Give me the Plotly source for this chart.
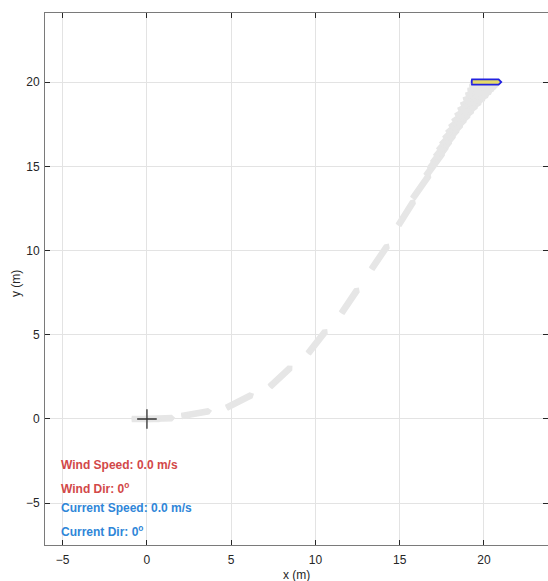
import numpy as np
import plotly.graph_objects as go

# ---- data ----
# boat snapshot poses along the trajectory (x m, y m, heading deg)
trail_x = [0.0, 0.75, 2.94, 5.52, 7.95, 10.12, 12.05, 13.83, 15.40, 16.29, 17.09,
           17.30, 17.50, 17.70, 17.90, 18.10, 18.30, 18.50, 18.70, 18.90, 19.10,
           19.30, 19.48, 19.65, 19.80, 19.93, 20.04, 20.10]
trail_y = [0.0, 0.03, 0.33, 1.07, 2.52, 4.60, 7.03, 9.64, 12.26, 13.83, 15.16,
           15.55, 15.90, 16.25, 16.60, 16.92, 17.25, 17.55, 17.85, 18.15, 18.43,
           18.70, 18.95, 19.20, 19.42, 19.62, 19.80, 19.92]
trail_hdg = [0, 2, 10, 27, 43, 52, 56, 56, 58, 55, 54,
             53, 52, 50, 48, 46, 44, 41, 38, 35, 31,
             27, 23, 19, 15, 10, 6, 3]

# current boat pose
boat_x = [20.15]
boat_y = [20.0]
boat_hdg = [0]

# hull outline in body frame (m)
hull_u = [-0.875, -0.86, 0.72, 0.875, 0.72, -0.86, -0.875, -0.875]
hull_v = [-0.09, -0.155, -0.155, 0.0, 0.155, 0.155, 0.09, -0.09]

# start marker
start_x = [0.0]
start_y = [0.0]

# environment info
env_lines = ["Wind Speed: 0.0 m/s", "Wind Dir: 0<sup>o</sup>",
             "Current Speed: 0.0 m/s", "Current Dir: 0<sup>o</sup>"]
env_y = [-2.73, -4.12, -5.28, -6.62]
env_colors = ["#d24848", "#d24848", "#2f86d8", "#2f86d8"]

x_ticks = [-5, 0, 5, 10, 15, 20]
y_ticks = [-5, 0, 5, 10, 15, 20]


def hull_xy(cx, cy, hdg):
    h = np.deg2rad(hdg)
    u = np.array(hull_u)
    v = np.array(hull_v)
    return (cx + u * np.cos(h) - v * np.sin(h)).tolist(), (cy + u * np.sin(h) + v * np.cos(h)).tolist()


gx, gy = [], []
for cx, cy, hd in zip(trail_x, trail_y, trail_hdg):
    xs, ys = hull_xy(cx, cy, hd)
    gx += xs + [None]
    gy += ys + [None]

fig = go.Figure()
fig.add_trace(go.Scatter(x=gx, y=gy, mode="lines", fill="toself",
                         fillcolor="#e6e6e6", line=dict(color="#e6e6e6", width=1.5),
                         hoverinfo="skip", showlegend=False))
fig.add_trace(go.Scatter(x=start_x, y=start_y, mode="markers",
                         marker=dict(symbol="cross-thin", size=14,
                                     line=dict(color="#333333", width=1.3)),
                         showlegend=False))
bx, by = hull_xy(boat_x[0], boat_y[0], boat_hdg[0])
fig.add_trace(go.Scatter(x=bx, y=by, mode="lines", fill="toself",
                         fillcolor="#e4da6a", line=dict(color="#2222e0", width=1.8),
                         showlegend=False))

font = "Liberation Sans, Arial, sans-serif"
for txt, yy, col in zip(env_lines, env_y, env_colors):
    fig.add_annotation(x=-5.22, y=yy, xref="x", yref="y", text=txt, showarrow=False,
                       xanchor="left", yanchor="middle",
                       font=dict(family=font, size=12, color=col, weight="bold"))

fig.add_annotation(x=0.5, y=0, xref="paper", yref="paper", text="x (m)", showarrow=False,
                   xanchor="center", yanchor="middle", yshift=-30,
                   font=dict(family=font, size=12, color="#262626"))
fig.add_annotation(x=-0.0577, y=0.4925, xref="paper", yref="paper", text="y (m)",
                   showarrow=False, textangle=-90, xanchor="center", yanchor="middle",
                   font=dict(family=font, size=12, color="#262626"))

axis_common = dict(showgrid=True, gridcolor="#e3e3e3", gridwidth=1, zeroline=False,
                   showline=True, linecolor="#7a7a7a", linewidth=1, mirror="allticks",
                   ticks="inside", ticklen=5, tickcolor="#262626", tickwidth=1,
                   tickfont=dict(family=font, size=12, color="#262626"))

fig.update_xaxes(range=[-6.05, 23.8], tickvals=x_ticks, ticklabelstandoff=4, **axis_common)
fig.update_yaxes(range=[-7.48, 24.1], tickvals=y_ticks, ticklabelstandoff=2, **axis_common)

fig.update_layout(width=548, height=581, margin=dict(l=45, r=0, t=13, b=36),
                  plot_bgcolor="white", paper_bgcolor="white")

fig.write_html("out.html")
